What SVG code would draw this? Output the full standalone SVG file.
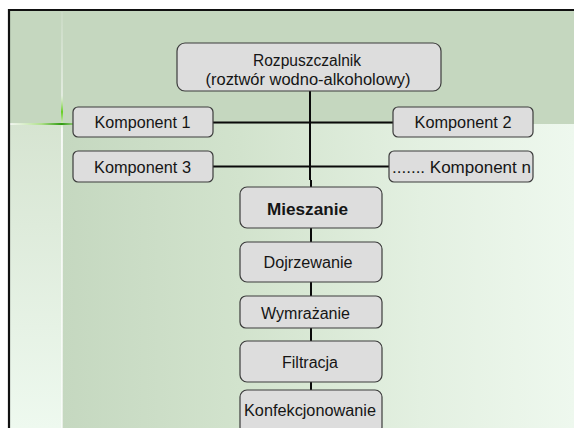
<svg xmlns="http://www.w3.org/2000/svg" width="574" height="428" viewBox="0 0 574 428">
<style>
.box{fill:#dddddd;stroke:#3c3c3c;stroke-width:1.2}
.t{font-family:"Liberation Sans",Arial,sans-serif;font-size:16px;fill:#151515;text-anchor:middle}
.b{font-weight:bold}
.c{stroke:#0a0a0a;stroke-width:2;fill:none}
</style>
<defs>
<linearGradient id="lowbg" x1="62" y1="0" x2="574" y2="0" gradientUnits="userSpaceOnUse">
<stop offset="0" stop-color="#c5d8c0"/>
<stop offset="0.35" stop-color="#d2e3cd"/>
<stop offset="0.7" stop-color="#e3f0e1"/>
<stop offset="1" stop-color="#eef8ee"/>
</linearGradient>
<linearGradient id="leftbg" x1="0" y1="124" x2="0" y2="428" gradientUnits="userSpaceOnUse">
<stop offset="0" stop-color="#d6e4d1"/>
<stop offset="1" stop-color="#eef9ef"/>
</linearGradient>
<linearGradient id="vline" x1="0" y1="12" x2="0" y2="428" gradientUnits="userSpaceOnUse">
<stop offset="0" stop-color="#ffffff" stop-opacity="0.1"/>
<stop offset="0.2" stop-color="#ffffff" stop-opacity="0.5"/>
<stop offset="0.24" stop-color="#66cc22"/>
<stop offset="0.28" stop-color="#ffffff" stop-opacity="0.8"/>
<stop offset="1" stop-color="#ffffff" stop-opacity="0.6"/>
</linearGradient>
<linearGradient id="hline" x1="10" y1="0" x2="80" y2="0" gradientUnits="userSpaceOnUse">
<stop offset="0" stop-color="#ffffff" stop-opacity="0.7"/>
<stop offset="0.45" stop-color="#aee08a"/>
<stop offset="0.74" stop-color="#2f9a10"/>
<stop offset="1" stop-color="#8ad060" stop-opacity="0.4"/>
</linearGradient>
</defs>
<g id="background">
<rect x="0" y="0" width="574" height="428" fill="#ffffff"/>
<rect x="9" y="10" width="565" height="418" fill="#c5d7bf"/>
<rect x="62" y="124" width="512" height="304" fill="url(#lowbg)"/>
<rect x="10" y="124" width="52" height="304" fill="url(#leftbg)"/>
<rect x="61" y="12" width="2" height="416" fill="url(#vline)"/>
<rect x="10" y="123" width="63" height="2" fill="url(#hline)"/>
<path d="M9 428 V10 H574" fill="none" stroke="#111111" stroke-width="2.2"/>
</g>
<g id="connectors">
<line class="c" x1="310" y1="91" x2="310" y2="180"/>
<line class="c" x1="311" y1="180" x2="311" y2="187"/>
<line class="c" x1="213" y1="122.5" x2="393" y2="122.5"/>
<line class="c" x1="213" y1="166.5" x2="389" y2="166.5" stroke-width="1.6"/>
<line class="c" x1="311" y1="228" x2="311" y2="242"/>
<line class="c" x1="311" y1="282" x2="311" y2="296"/>
<line class="c" x1="311" y1="328" x2="311" y2="341"/>
<line class="c" x1="311" y1="382" x2="311" y2="390"/>
</g>
<g id="rozpuszczalnik">
<rect class="box" x="177" y="43" width="264" height="48" rx="8"/>
<text class="t" x="307" y="66" textLength="108" lengthAdjust="spacingAndGlyphs">Rozpuszczalnik</text>
<text class="t" x="308" y="85" textLength="205" lengthAdjust="spacingAndGlyphs">(roztwór wodno-alkoholowy)</text>
</g>
<g id="komponent1">
<rect class="box" x="73" y="107" width="140" height="30" rx="5"/>
<text class="t" x="142.5" y="128" textLength="96" lengthAdjust="spacingAndGlyphs">Komponent 1</text>
</g>
<g id="komponent2">
<rect class="box" x="393" y="107" width="140" height="30" rx="5"/>
<text class="t" x="463" y="128" textLength="97" lengthAdjust="spacingAndGlyphs">Komponent 2</text>
</g>
<g id="komponent3">
<rect class="box" x="73" y="151" width="140" height="31" rx="5"/>
<text class="t" x="142.5" y="172.5" textLength="97" lengthAdjust="spacingAndGlyphs">Komponent 3</text>
</g>
<g id="komponentn">
<rect class="box" x="389" y="151" width="144" height="31" rx="5"/>
<text class="t" x="392" y="172.5" style="text-anchor:start" textLength="139" lengthAdjust="spacingAndGlyphs">....... Komponent n</text>
</g>
<g id="mieszanie">
<rect class="box" x="240" y="187" width="142" height="41" rx="7"/>
<text class="t b" x="307.5" y="214.5" textLength="81" lengthAdjust="spacingAndGlyphs">Mieszanie</text>
</g>
<g id="dojrzewanie">
<rect class="box" x="240" y="242" width="142" height="40" rx="7"/>
<text class="t" x="308" y="267.5" textLength="89" lengthAdjust="spacingAndGlyphs">Dojrzewanie</text>
</g>
<g id="wymrazanie">
<rect class="box" x="240" y="296" width="142" height="32" rx="6"/>
<text class="t" x="305.5" y="318.5" textLength="89" lengthAdjust="spacingAndGlyphs">Wymrażanie</text>
</g>
<g id="filtracja">
<rect class="box" x="240" y="341" width="142" height="41" rx="7"/>
<text class="t" x="310" y="367.5" textLength="56" lengthAdjust="spacingAndGlyphs">Filtracja</text>
</g>
<g id="konfekcjonowanie">
<rect class="box" x="240" y="390" width="142" height="44" rx="7"/>
<text class="t" x="310" y="415.5" textLength="132" lengthAdjust="spacingAndGlyphs">Konfekcjonowanie</text>
</g>
</svg>
